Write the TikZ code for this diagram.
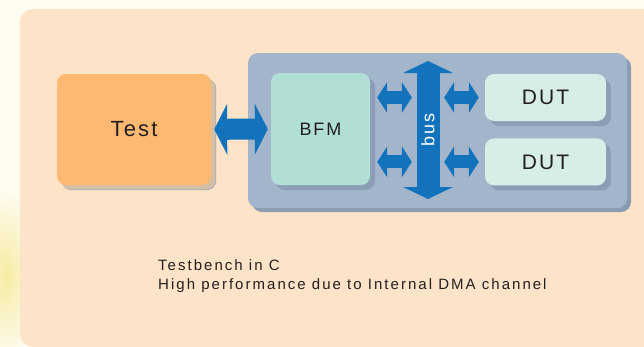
\documentclass[tikz,border=0pt]{standalone}
\usepackage{fontspec}
\setmainfont{Liberation Sans}
\newfontfamily\lblfont[LetterSpace=10]{Liberation Sans}
\newfontfamily\notefont[LetterSpace=13.5]{Liberation Sans}
\usetikzlibrary{positioning,arrows.meta,shadows}

\definecolor{cream}{HTML}{FEFBEF}
\definecolor{glow}{HTML}{F6EBA2}
\definecolor{peach}{HTML}{FDE3C7}
\definecolor{testfill}{HTML}{FDB972}
\definecolor{testshade}{HTML}{D4BFA6}
\definecolor{panelfill}{HTML}{A3B5CA}
\definecolor{panelshade}{HTML}{8A9CB3}
\definecolor{bfmfill}{HTML}{B2DFD5}
\definecolor{dutfill}{HTML}{D6EEE7}
\definecolor{boxshade}{HTML}{8B9EB5}
\definecolor{busblue}{HTML}{1273BC}
\definecolor{ink}{HTML}{231F20}

\begin{document}
\begin{tikzpicture}[x=1pt,y=-1pt,
  box/.style={rounded corners=9pt,inner sep=0pt,text=ink,
    drop shadow={shadow xshift=5pt,shadow yshift=-5pt,fill=boxshade,opacity=1}},
  link/.style={busblue,line width=13pt,
    {Triangle[width=31pt,length=10pt,line width=0pt]}-{Triangle[width=31pt,length=10pt,line width=0pt]}}]
\useasboundingbox (0,0) rectangle (644,346);
\fill[cream] (0,0) rectangle (644,346);
\shade[inner color=glow,outer color=cream] (6,275) ellipse (32 and 85);
\fill[peach,rounded corners=13pt] (20,9) rectangle (690,347);

% the chip with its blocks
\node[rounded corners=10pt,fill=panelfill,minimum width=379pt,minimum height=155pt,
  drop shadow={shadow xshift=4pt,shadow yshift=-4pt,fill=panelshade,opacity=1}] (soc) at (437.5,130.5) {};
\node[box,fill=testfill,minimum width=154pt,minimum height=111pt,
  drop shadow={shadow xshift=4.5pt,shadow yshift=-4.5pt,fill=testshade,opacity=1},
  font=\lblfont\fontsize{22}{22}\selectfont] (test) at (134,129.5) {Test};
\node[box,fill=bfmfill,minimum width=99pt,minimum height=112pt,
  font=\lblfont\fontsize{18}{18}\selectfont] (bfm) at (320.5,129) {BFM};
\node[box,fill=dutfill,minimum width=121pt,minimum height=47pt,
  font=\lblfont\fontsize{21}{21}\selectfont] (dut1) at (545.5,97.5) {DUT};
\node[box,fill=dutfill,minimum width=121pt,minimum height=47pt,below=17pt of dut1,
  font=\lblfont\fontsize{21}{21}\selectfont] (dut2) {DUT};

% bus
\coordinate (bus top) at (428,61);
\coordinate (bus bot) at (428,199);
\draw[busblue,line width=23pt,
  {Triangle[width=50pt,length=12pt,line width=0pt]}-{Triangle[width=50pt,length=12pt,line width=0pt]}]
  (bus bot) -- (bus top);
\node[inner sep=0pt,minimum width=23pt,minimum height=114pt] (bus) at (428,130) {};
\node[rotate=90,text=white,font=\lblfont\fontsize{18}{18}\selectfont] at (bus) {bus};

\draw[busblue,line width=21pt,shorten <=3pt,shorten >=3pt,
  {Triangle[width=51pt,length=13pt,line width=0pt]}-{Triangle[width=51pt,length=13pt,line width=0pt]}]
  (test) -- (bfm);
\foreach \d in {dut1,dut2} {
  \draw[link,shorten <=7pt,shorten >=4.5pt] (bfm.east |- \d) -- (bus.west |- \d);
  \draw[link,shorten <=4.5pt,shorten >=6pt] (bus.east |- \d) -- (\d.west);
}

\node[anchor=north west,inner sep=0pt,align=left,text=ink,
  font=\notefont\fontsize{15}{19.4}\selectfont] (note) at (158,259.3)
  {Testbench in C\\High performance due to Internal DMA channel};
\end{tikzpicture}
\end{document}
